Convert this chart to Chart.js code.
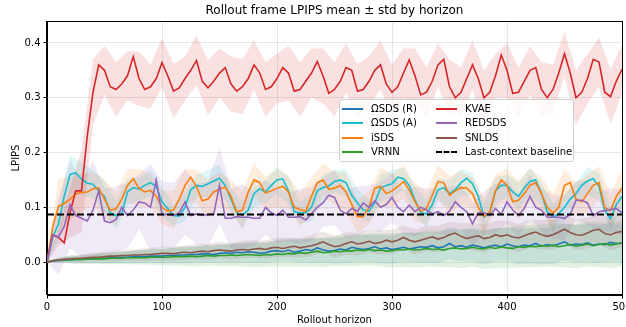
<!DOCTYPE html>
<html><head><meta charset="utf-8">
<script src="https://cdn.jsdelivr.net/npm/chart.js@4.4.1/dist/chart.umd.min.js"></script>
<style>
html,body{margin:0;padding:0;background:#fff;}
#wrap{position:relative;width:626px;height:327px;}
#title{position:absolute;left:134.5px;width:400px;top:2px;text-align:center;font-family:"DejaVu Sans";font-size:12px;line-height:16px;color:#000;white-space:nowrap;}
#legend{position:absolute;left:339px;top:99px;width:235px;height:63px;box-sizing:border-box;border:1px solid #d0d0d0;border-radius:3px;background:rgba(255,255,255,0.8);font-family:"DejaVu Sans";font-size:10px;color:#000;}
.item{position:absolute;height:14px;line-height:14px;white-space:nowrap;}
.sw{position:absolute;top:6px;left:0;width:21px;height:0;border-top-width:2px;border-top-style:solid;}
.lbl{position:absolute;left:29px;top:0;}
</style></head>
<body>
<div id="wrap"><canvas id="c" width="626" height="327"></canvas><div id="title"></div><div id="legend"></div></div>
<script>
const TITLE = 'Rollout frame LPIPS mean \u00b1 std by horizon';
const X_LABEL = 'Rollout horizon';
const Y_LABEL = 'LPIPS';
const xTicks = [0, 100, 200, 300, 400, 500];
const yTicks = [0.0, 0.1, 0.2, 0.3, 0.4];
const baseline = 0.087;

const horizon = [0,5,10,15,20,25,30,35,40,45,50,55,60,65,70,75,80,85,90,95,
100,105,110,115,120,125,130,135,140,145,150,155,160,165,170,175,180,185,190,195,
200,205,210,215,220,225,230,235,240,245,250,255,260,265,270,275,280,285,290,295,
300,305,310,315,320,325,330,335,340,345,350,355,360,365,370,375,380,385,390,395,
400,405,410,415,420,425,430,435,440,445,450,455,460,465,470,475,480,485,490,495,500];

const omegaR = [0.0,0.002,0.003,0.004,0.004,0.005,0.005,0.006,0.006,0.007,
0.007,0.008,0.008,0.009,0.009,0.01,0.01,0.01,0.011,0.011,
0.011,0.012,0.012,0.013,0.013,0.014,0.014,0.015,0.015,0.014,
0.016,0.017,0.016,0.018,0.017,0.019,0.018,0.016,0.017,0.02,
0.021,0.019,0.022,0.018,0.02,0.023,0.021,0.026,0.022,0.02,
0.021,0.024,0.022,0.027,0.025,0.023,0.025,0.028,0.024,0.026,
0.023,0.025,0.027,0.024,0.026,0.028,0.027,0.03,0.026,0.028,
0.034,0.028,0.03,0.027,0.031,0.029,0.026,0.029,0.031,0.028,
0.033,0.03,0.028,0.031,0.03,0.034,0.029,0.032,0.03,0.033,
0.037,0.031,0.033,0.032,0.035,0.031,0.033,0.032,0.036,0.034,0.035];

const omegaA = [0.0,0.045,0.07,0.12,0.16,0.163,0.152,0.144,0.142,0.13,
0.12,0.09,0.085,0.088,0.128,0.136,0.133,0.14,0.145,0.138,
0.11,0.098,0.085,0.084,0.1,0.132,0.14,0.138,0.143,0.148,
0.153,0.14,0.115,0.09,0.086,0.095,0.125,0.134,0.128,0.14,
0.15,0.152,0.13,0.092,0.09,0.09,0.1,0.13,0.136,0.139,
0.147,0.15,0.145,0.122,0.108,0.095,0.093,0.108,0.135,0.14,
0.143,0.155,0.152,0.14,0.113,0.09,0.088,0.105,0.132,0.136,
0.125,0.132,0.145,0.153,0.143,0.12,0.082,0.09,0.13,0.14,
0.14,0.128,0.12,0.135,0.147,0.15,0.125,0.092,0.082,0.088,
0.1,0.115,0.125,0.14,0.148,0.152,0.138,0.095,0.079,0.105,0.12];

const isds = [0.0,0.065,0.102,0.107,0.115,0.125,0.127,0.128,0.134,0.135,
0.115,0.095,0.097,0.115,0.14,0.152,0.135,0.128,0.131,0.12,
0.1,0.093,0.095,0.115,0.14,0.155,0.138,0.112,0.115,0.128,
0.133,0.137,0.12,0.092,0.095,0.128,0.15,0.145,0.126,0.13,
0.135,0.138,0.128,0.1,0.096,0.093,0.12,0.145,0.15,0.133,
0.135,0.14,0.128,0.105,0.083,0.083,0.1,0.135,0.138,0.125,
0.13,0.138,0.147,0.132,0.11,0.093,0.098,0.122,0.147,0.145,
0.122,0.13,0.136,0.135,0.125,0.1,0.083,0.092,0.13,0.15,
0.14,0.11,0.113,0.125,0.14,0.145,0.125,0.1,0.09,0.1,
0.14,0.145,0.115,0.11,0.125,0.14,0.145,0.1,0.094,0.12,0.135];

const vrnn = [0.0,0.003,0.004,0.004,0.005,0.005,0.005,0.006,0.006,0.006,
0.006,0.007,0.007,0.007,0.008,0.008,0.008,0.008,0.009,0.009,
0.009,0.009,0.01,0.01,0.01,0.011,0.01,0.011,0.012,0.011,
0.012,0.012,0.013,0.012,0.013,0.014,0.013,0.012,0.014,0.013,
0.015,0.014,0.016,0.015,0.017,0.016,0.018,0.02,0.017,0.018,
0.02,0.019,0.021,0.02,0.022,0.021,0.023,0.021,0.022,0.02,
0.021,0.023,0.022,0.024,0.022,0.023,0.025,0.023,0.024,0.022,
0.025,0.026,0.024,0.025,0.027,0.025,0.024,0.027,0.025,0.028,
0.026,0.025,0.028,0.027,0.029,0.028,0.03,0.029,0.031,0.028,
0.03,0.032,0.029,0.031,0.033,0.03,0.032,0.034,0.031,0.033,0.035];

const kvae = [0.0,0.05,0.045,0.035,0.09,0.13,0.13,0.23,0.31,0.36,
0.35,0.32,0.315,0.325,0.34,0.375,0.335,0.315,0.32,0.335,
0.364,0.34,0.312,0.318,0.335,0.35,0.368,0.33,0.318,0.33,
0.345,0.355,0.325,0.312,0.32,0.335,0.36,0.345,0.315,0.32,
0.335,0.355,0.345,0.312,0.315,0.33,0.345,0.366,0.34,0.308,
0.315,0.33,0.355,0.35,0.312,0.315,0.33,0.35,0.36,0.325,
0.31,0.32,0.345,0.369,0.34,0.305,0.31,0.33,0.36,0.37,
0.32,0.3,0.31,0.335,0.36,0.335,0.3,0.31,0.34,0.378,
0.35,0.308,0.31,0.33,0.35,0.355,0.315,0.3,0.315,0.345,
0.38,0.345,0.3,0.31,0.335,0.37,0.365,0.31,0.302,0.33,0.352];

const redsds = [0.0,0.05,0.046,0.065,0.105,0.085,0.08,0.075,0.095,0.13,
0.075,0.072,0.078,0.1,0.085,0.095,0.11,0.108,0.1,0.15,
0.087,0.087,0.085,0.09,0.11,0.085,0.088,0.085,0.087,0.088,
0.14,0.08,0.08,0.083,0.082,0.082,0.08,0.08,0.1,0.09,
0.085,0.095,0.082,0.082,0.083,0.077,0.088,0.1,0.108,0.122,
0.118,0.095,0.088,0.098,0.093,0.108,0.1,0.112,0.1,0.105,
0.118,0.1,0.092,0.104,0.092,0.1,0.095,0.088,0.092,0.085,
0.093,0.11,0.1,0.092,0.07,0.09,0.09,0.085,0.098,0.087,
0.11,0.095,0.085,0.098,0.12,0.1,0.095,0.082,0.082,0.082,
0.08,0.087,0.113,0.113,0.108,0.085,0.092,0.094,0.096,0.098,0.09];

const snlds = [0.0,0.002,0.004,0.005,0.006,0.007,0.007,0.008,0.009,0.009,
0.01,0.011,0.011,0.012,0.012,0.013,0.013,0.014,0.014,0.015,
0.016,0.016,0.015,0.017,0.018,0.017,0.019,0.02,0.019,0.021,
0.022,0.021,0.02,0.022,0.023,0.022,0.024,0.025,0.023,0.026,
0.027,0.025,0.027,0.029,0.026,0.028,0.03,0.033,0.037,0.032,
0.028,0.03,0.034,0.037,0.033,0.035,0.038,0.034,0.036,0.04,
0.037,0.04,0.045,0.04,0.037,0.04,0.043,0.046,0.042,0.045,
0.05,0.053,0.047,0.043,0.046,0.048,0.043,0.045,0.05,0.047,
0.05,0.046,0.044,0.048,0.052,0.055,0.05,0.047,0.05,0.055,
0.06,0.054,0.05,0.049,0.053,0.058,0.06,0.052,0.05,0.054,0.056];

// std at every 10 steps (h = 0,10,...,500)
const omegaRStd = [0,0.004,0.006,0.007,0.008,0.009,0.01,0.011,0.012,0.012,
0.013,0.014,0.015,0.015,0.016,0.017,0.017,0.018,0.019,0.019,
0.02,0.021,0.021,0.022,0.023,0.023,0.024,0.024,0.025,0.026,
0.026,0.027,0.027,0.028,0.028,0.029,0.029,0.03,0.03,0.031,
0.031,0.032,0.032,0.033,0.033,0.034,0.034,0.035,0.035,0.035,0.036];
const omegaAStd = [0,0.03,0.035,0.03,0.025,0.03,0.025,0.025,0.02,0.025,
0.025,0.02,0.025,0.02,0.025,0.025,0.02,0.025,0.025,0.02,
0.025,0.025,0.02,0.025,0.025,0.02,0.025,0.025,0.02,0.025,
0.025,0.02,0.025,0.025,0.02,0.025,0.025,0.02,0.025,0.025,
0.02,0.025,0.025,0.02,0.025,0.025,0.02,0.025,0.025,0.02,0.025];
const isdsStd = [0,0.05,0.04,0.035,0.03,0.035,0.03,0.03,0.035,0.03,
0.03,0.035,0.03,0.03,0.035,0.03,0.03,0.035,0.03,0.03,
0.035,0.03,0.03,0.035,0.03,0.03,0.035,0.03,0.03,0.035,
0.03,0.03,0.035,0.03,0.03,0.035,0.03,0.03,0.035,0.03,
0.03,0.035,0.03,0.03,0.035,0.03,0.03,0.035,0.03,0.03,0.035];
const vrnnStd = [0,0.005,0.007,0.008,0.009,0.01,0.011,0.012,0.013,0.014,
0.015,0.016,0.017,0.018,0.018,0.019,0.02,0.021,0.022,0.022,
0.023,0.024,0.025,0.026,0.026,0.027,0.028,0.029,0.029,0.03,
0.031,0.031,0.032,0.033,0.033,0.034,0.035,0.035,0.036,0.036,
0.037,0.038,0.038,0.039,0.039,0.04,0.04,0.041,0.041,0.042,0.042];
const kvaeStd = [0,0.015,0.045,0.075,0.06,0.045,0.05,0.045,0.05,0.04,
0.045,0.05,0.04,0.045,0.05,0.045,0.05,0.05,0.045,0.05,
0.045,0.05,0.05,0.045,0.05,0.05,0.045,0.05,0.045,0.045,
0.05,0.045,0.05,0.045,0.04,0.05,0.045,0.045,0.05,0.04,
0.05,0.045,0.045,0.05,0.045,0.04,0.05,0.045,0.045,0.05,0.045];
const redsdsStd = [0,0.07,0.08,0.07,0.09,0.06,0.06,0.06,0.05,0.08,
0.06,0.06,0.06,0.055,0.06,0.07,0.055,0.06,0.05,0.05,
0.05,0.045,0.05,0.05,0.045,0.05,0.045,0.045,0.04,0.045,
0.045,0.04,0.045,0.04,0.04,0.045,0.04,0.04,0.04,0.045,
0.04,0.04,0.04,0.04,0.04,0.04,0.035,0.04,0.035,0.04,0.04];
const snldsStd = [0,0.004,0.006,0.007,0.008,0.009,0.01,0.01,0.011,0.012,
0.012,0.013,0.013,0.014,0.014,0.015,0.015,0.016,0.016,0.017,
0.017,0.018,0.018,0.019,0.019,0.02,0.02,0.021,0.021,0.022,
0.022,0.022,0.023,0.023,0.024,0.024,0.024,0.025,0.025,0.025,
0.026,0.026,0.026,0.027,0.027,0.027,0.028,0.028,0.028,0.029,0.029];

const series = [
  { label: '\u03a9SDS (R)', mean: omegaR, std: omegaRStd, color: '31,119,180' },
  { label: '\u03a9SDS (A)', mean: omegaA, std: omegaAStd, color: '23,190,207' },
  { label: 'iSDS', mean: isds, std: isdsStd, color: '255,127,14' },
  { label: 'VRNN', mean: vrnn, std: vrnnStd, color: '44,160,44' },
  { label: 'KVAE', mean: kvae, std: kvaeStd, color: '214,39,40' },
  { label: 'REDSDS', mean: redsds, std: redsdsStd, color: '148,103,189' },
  { label: 'SNLDS', mean: snlds, std: snldsStd, color: '140,86,75' }
];

const FONT = 'DejaVu Sans';
const datasets = [];
series.forEach((s, k) => {
  datasets.push({
    label: s.label,
    data: horizon.map((h, i) => ({ x: h, y: s.mean[i] })),
    borderColor: 'rgb(' + s.color + ')',
    borderWidth: 1.6,
    pointRadius: 0,
    fill: false,
    tension: 0,
    order: 20 - k
  });
});
datasets.push({
  label: 'Last-context baseline',
  data: [{ x: xTicks[0], y: baseline }, { x: xTicks[xTicks.length - 1], y: baseline }],
  borderColor: '#000', borderWidth: 2, borderDash: [7, 3], pointRadius: 0, fill: false, order: 1
});
series.forEach((s, k) => {
  const hh = horizon.filter((h, i) => i % 2 === 0);
  datasets.push({
    label: s.label + ' upper',
    data: hh.map((h, j) => ({ x: h, y: s.mean[2 * j] + s.std[j] })),
    borderWidth: 0, pointRadius: 0, borderColor: 'rgba(0,0,0,0)',
    backgroundColor: 'rgba(' + s.color + ',0.14)',
    fill: '+1', tension: 0, order: 100 - k
  });
  datasets.push({
    label: s.label + ' lower',
    data: hh.map((h, j) => ({ x: h, y: s.mean[2 * j] - s.std[j] })),
    borderWidth: 0, pointRadius: 0, borderColor: 'rgba(0,0,0,0)',
    fill: false, tension: 0, order: 100 - k
  });
});

const framePlugin = {
  id: 'frame',
  afterDraw(chart) {
    const a = chart.chartArea, c = chart.ctx;
    c.save();
    c.strokeStyle = '#000';
    c.lineWidth = 1;
    c.strokeRect(Math.round(a.left) - 0.5, Math.round(a.top) + 0.5, Math.round(a.right - a.left) + 1, Math.round(a.bottom - a.top) - 1);
    c.restore();
  }
};

const tickFont = { family: FONT, size: 10 };
new Chart(document.getElementById('c'), {
  type: 'line',
  data: { datasets },
  options: {
    responsive: false,
    animation: false,
    layout: { autoPadding: false, padding: { left: 0, right: 4, top: 21, bottom: 0 } },
    plugins: {
      legend: { display: false },
      tooltip: { enabled: false },
      title: { display: false }
    },
    scales: {
      x: {
        type: 'linear', min: xTicks[0], max: xTicks[xTicks.length - 1],
        afterBuildTicks: s => { s.ticks = xTicks.map(v => ({ value: v })); },
        afterFit: s => { s.height = 32; s.paddingLeft = 0; s.paddingRight = 0; },
        ticks: { font: tickFont, color: '#000', padding: 3, maxRotation: 0, autoSkip: false },
        grid: { color: 'rgba(176,176,176,0.3)', tickColor: '#000', tickLength: 3.5 },
        border: { display: true, color: '#000', width: 1 },
        title: { display: true, text: X_LABEL, color: '#000', font: tickFont, padding: { top: 0, bottom: 1 } }
      },
      y: {
        min: -0.06, max: 0.44,
        afterBuildTicks: s => { s.ticks = yTicks.map(v => ({ value: v })); },
        afterFit: s => { s.width = 47; s.paddingTop = 0; s.paddingBottom = 0; },
        ticks: { font: tickFont, color: '#000', padding: 3, callback: v => v.toFixed(1) },
        grid: { color: 'rgba(176,176,176,0.3)', tickColor: '#000', tickLength: 3.5 },
        border: { display: true, color: '#000', width: 1 },
        title: { display: true, text: Y_LABEL, color: '#000', font: tickFont, padding: { top: 10, bottom: 0 } }
      }
    }
  },
  plugins: [framePlugin]
});

document.getElementById('title').textContent = TITLE;

const legendItems = series.map(s => ({ label: s.label, color: 'rgb(' + s.color + ')', dash: false }))
  .concat([{ label: 'Last-context baseline', color: '#000', dash: true }]);
const leg = document.getElementById('legend');
const rowTops = [1.5, 16, 30.5, 45];
const colLefts = [2, 96];
legendItems.forEach((it, i) => {
  const col = Math.floor(i / 4), row = i % 4;
  const d = document.createElement('div');
  d.className = 'item';
  d.style.left = colLefts[col] + 'px';
  d.style.top = rowTops[row] + 'px';
  const sw = document.createElement('div');
  sw.className = 'sw';
  sw.style.borderTopColor = it.color;
  if (it.dash) { sw.style.borderTopStyle = 'dashed'; }
  const t = document.createElement('span');
  t.className = 'lbl';
  t.textContent = it.label;
  d.appendChild(sw); d.appendChild(t);
  leg.appendChild(d);
});
</script>
</body></html>
